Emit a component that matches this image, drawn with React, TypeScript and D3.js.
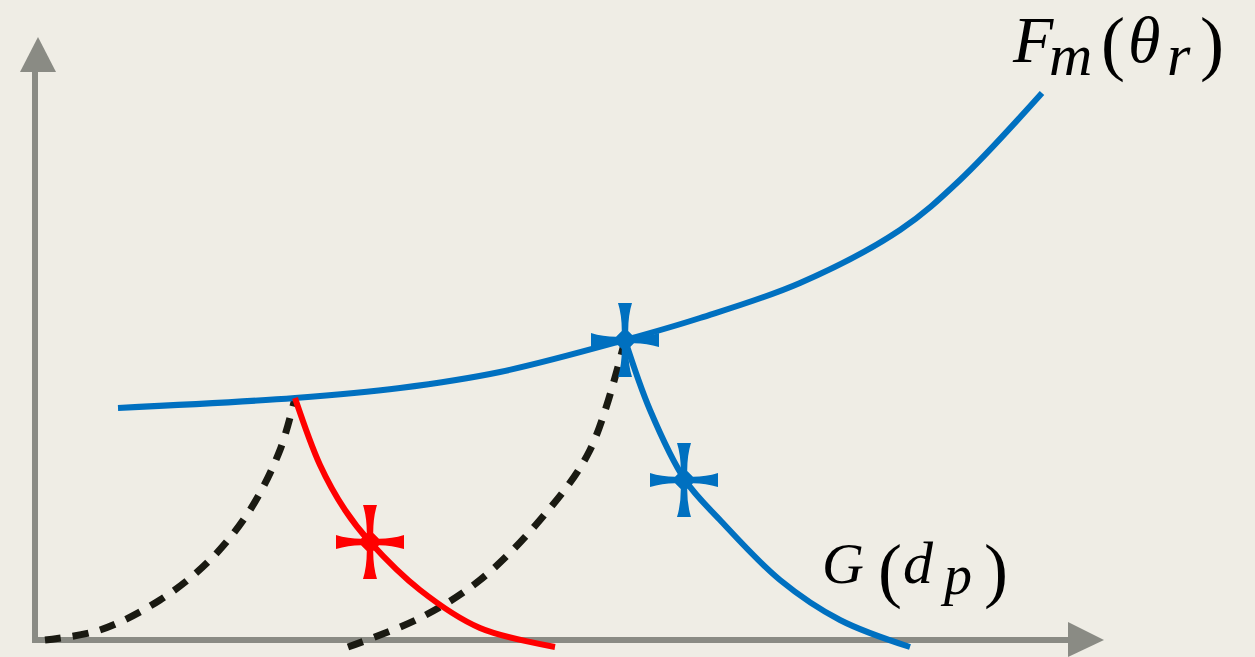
import React from "react";
import * as d3 from "d3";

const W = 1255, H = 657;

// curve data (abstract units: x right, y up from axis origin)
const fmCurve: [number, number][] = [
  [8.3, 23.2], [26, 24.2], [36.5, 25.2], [46.5, 26.8], [59, 30], [66.5, 32.2],
  [76.5, 35.7], [86.5, 41], [92.5, 46], [100.7, 54.7],
];
const redCurve: [number, number][] = [
  [26, 24.2], [28.5, 17.5], [31, 13], [33.5, 9.8], [38.5, 5], [44.5, 1.2], [52, -0.7],
];
const gCurve: [number, number][] = [
  [59, 30], [61.5, 23], [65, 16], [68.5, 12], [74.5, 6], [80.5, 2], [87.5, -0.7],
];
const dashed1: [number, number][] = [
  [1, 0], [6.5, 1], [12.5, 4], [17.5, 8], [21.5, 13], [24.5, 19], [26, 24.2],
];
const dashed2: [number, number][] = [
  [31.3, -0.7], [38.5, 2.2], [44.5, 6], [50.5, 12], [55.5, 19], [59, 30],
];
const stars: { x: number; y: number; color: string }[] = [
  { x: 59, y: 30, color: "#0070c0" },
  { x: 33.5, y: 9.8, color: "#ff0000" },
  { x: 64.9, y: 16, color: "#0070c0" },
];

const x = d3.scaleLinear().domain([0, 100]).range([35, 1035]);
const y = d3.scaleLinear().domain([0, 100]).range([640, -360]);

const line = d3
  .line<[number, number]>()
  .x((d) => x(d[0]))
  .y((d) => y(d[1]))
  .curve(d3.curveCatmullRom.alpha(0.5));

function starPath(cx: number, cy: number) {
  const hx = 34, hy = 37, ew = 7, cw = 3.2;
  const ix = 9, iy = 9;
  return [
    `M${cx - cw},${cy - iy}`,
    `Q${cx - cw},${cy - hy + 12} ${cx - ew},${cy - hy}`,
    `L${cx + ew},${cy - hy}`,
    `Q${cx + cw},${cy - hy + 12} ${cx + cw},${cy - iy}`,
    `L${cx + ix},${cy - cw}`,
    `Q${cx + hx - 12},${cy - cw} ${cx + hx},${cy - ew}`,
    `L${cx + hx},${cy + ew}`,
    `Q${cx + hx - 12},${cy + cw} ${cx + ix},${cy + cw}`,
    `L${cx + cw},${cy + iy}`,
    `Q${cx + cw},${cy + hy - 12} ${cx + ew},${cy + hy}`,
    `L${cx - ew},${cy + hy}`,
    `Q${cx - cw},${cy + hy - 12} ${cx - cw},${cy + iy}`,
    `L${cx - ix},${cy + cw}`,
    `Q${cx - hx + 12},${cy + cw} ${cx - hx},${cy + ew}`,
    `L${cx - hx},${cy - ew}`,
    `Q${cx - hx + 12},${cy - cw} ${cx - ix},${cy - cw}`,
    "Z",
  ].join(" ");
}

const font = "'Liberation Serif', 'DejaVu Serif', serif";

function Glyph(props: { x: number; y: number; size: number; italic?: boolean; children: string }) {
  return (
    <text
      x={props.x}
      y={props.y}
      fontFamily={font}
      fontSize={props.size}
      fontStyle={props.italic ? "italic" : "normal"}
      fill="#000"
    >
      {props.children}
    </text>
  );
}

export default function App() {
  const axisColor = "#8a8b84";
  return (
    <svg
      width={W}
      height={H}
      style={{ position: "absolute", left: 0, top: 0, background: "#efede5" }}
    >
      <rect width={W} height={H} fill="#efede5" />
      {/* axes */}
      <line x1={35} y1={640} x2={35} y2={70} stroke={axisColor} strokeWidth={6} />
      <polygon points="20,72 56,72 38,37" fill={axisColor} />
      <line x1={32} y1={640} x2={1070} y2={640} stroke={axisColor} strokeWidth={6} />
      <polygon points="1068,622 1068,657 1104,640" fill={axisColor} />

      {/* dashed curves */}
      <path d={line(dashed1) || ""} fill="none" stroke="#1a1a12" strokeWidth={7} strokeDasharray="16 12" />
      <path d={line(dashed2) || ""} fill="none" stroke="#1a1a12" strokeWidth={7} strokeDasharray="16 12" />

      {/* curves */}
      <path d={line(fmCurve) || ""} fill="none" stroke="#0070c0" strokeWidth={6} />
      <path d={line(redCurve) || ""} fill="none" stroke="#ff0000" strokeWidth={6} />
      <path d={line(gCurve) || ""} fill="none" stroke="#0070c0" strokeWidth={6} />

      {stars.map((s, i) => (
        <path key={i} d={starPath(x(s.x), y(s.y))} fill={s.color} />
      ))}

      {/* labels: F_m(θ_r) */}
      <Glyph x={1013} y={62} size={66} italic>F</Glyph>
      <Glyph x={1049} y={75} size={60} italic>m</Glyph>
      <Glyph x={1101} y={67} size={72}>(</Glyph>
      <Glyph x={1128} y={62} size={66} italic>θ</Glyph>
      <Glyph x={1167} y={75} size={60} italic>r</Glyph>
      <Glyph x={1200} y={67} size={72}>)</Glyph>

      {/* labels: G(d_p) */}
      <Glyph x={822} y={583} size={58} italic>G</Glyph>
      <Glyph x={878} y={594} size={72}>(</Glyph>
      <Glyph x={903} y={583} size={60} italic>d</Glyph>
      <Glyph x={944} y={594} size={56} italic>p</Glyph>
      <Glyph x={984} y={594} size={72}>)</Glyph>
    </svg>
  );
}
